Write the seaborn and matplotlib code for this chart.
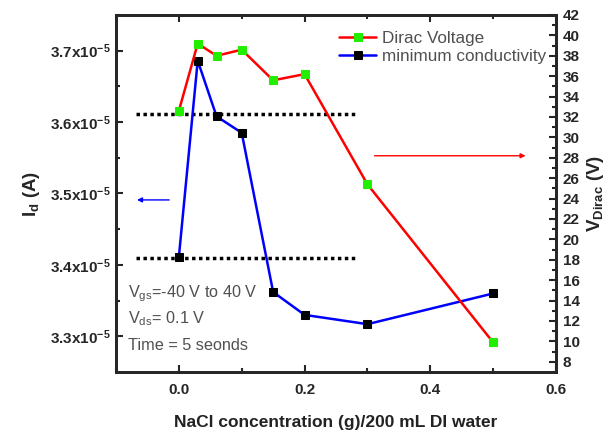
import numpy as np
import pandas as pd
import matplotlib
matplotlib.use("Agg")
import matplotlib.pyplot as plt
from matplotlib.ticker import MultipleLocator, FixedLocator, FixedFormatter
import seaborn as sns

# ---- data ----
nacl = [0.0, 0.03, 0.06, 0.10, 0.15, 0.20, 0.30, 0.50]
dirac_voltage = [32.6, 39.2, 38.0, 38.6, 35.6, 36.2, 25.4, 9.9]           # V (right axis)
min_conductivity = [3.411, 3.686, 3.608, 3.585, 3.362, 3.330, 3.317, 3.360]  # x1e-5 A (left axis)
left_ticks = [3.3, 3.4, 3.5, 3.6, 3.7]
left_tick_labels = [r"3.3x10$^{\mathbf{-5}}$", r"3.4x10$^{\mathbf{-5}}$", r"3.5x10$^{\mathbf{-5}}$",
                    r"3.6x10$^{\mathbf{-5}}$", r"3.7x10$^{\mathbf{-5}}$"]
ref_levels = [3.611, 3.410]  # dotted reference lines (x1e-5 A)
ref_x = [-0.068, 0.283]

sns.set_style("ticks")
plt.rcParams["font.family"] = ["Liberation Sans", "DejaVu Sans"]
plt.rcParams["mathtext.fontset"] = "custom"
plt.rcParams["mathtext.rm"] = "Liberation Sans"
plt.rcParams["mathtext.bf"] = "Liberation Sans:bold"
plt.rcParams["mathtext.it"] = "Liberation Sans:italic"

df = pd.DataFrame({"x": nacl, "vd": dirac_voltage, "imin": np.array(min_conductivity) * 1e-5})

fig = plt.figure(figsize=(6.15, 4.33), dpi=100)
ax = fig.add_axes([116/615, 61/433, (556-116)/615, (372-15)/433])
ax2 = ax.twinx()

sns.lineplot(data=df, x="x", y="imin", ax=ax, color="#0000ff", lw=1.8, marker="s",
             markersize=5.3, markerfacecolor="black", markeredgecolor="black", label="minimum conductivity",
             legend=False)
sns.lineplot(data=df, x="x", y="vd", ax=ax2, color="#ff0000", lw=1.8, marker="s",
             markersize=5.3, markerfacecolor="#22ee00", markeredgecolor="#22ee00", label="Dirac Voltage",
             legend=False)

for lvl in ref_levels:
    ax.plot(ref_x, [lvl*1e-5, lvl*1e-5], color="black", lw=2.5, ls=(0, (1, 1)), zorder=1)

ax.set_xlim(-0.1, 0.6)
ax.set_ylim(3.25e-5, 3.75e-5)
ax2.set_ylim(7, 42)

ax.xaxis.set_minor_locator(MultipleLocator(0.1))
ax.set_xticks([0.0, 0.2, 0.4, 0.6])
ax.set_xticklabels(["0.0", "0.2", "0.4", "0.6"])
ax.yaxis.set_major_locator(FixedLocator([v*1e-5 for v in left_ticks]))
ax.yaxis.set_major_formatter(FixedFormatter(left_tick_labels))
ax.yaxis.set_minor_locator(MultipleLocator(0.05e-5))
ax2.yaxis.set_major_locator(MultipleLocator(2))
ax2.yaxis.set_minor_locator(MultipleLocator(1))

ax.tick_params(axis="both", which="both", direction="in", top=True, width=1.5, labelsize=11)
ax.tick_params(axis="x", which="major", pad=8)
ax.tick_params(axis="y", which="both", right=False)
ax.tick_params(which="major", length=5)
ax.tick_params(which="minor", length=3)
ax2.tick_params(axis="y", which="both", direction="in", width=1.5, labelsize=11, pad=5)
ax2.tick_params(which="major", length=5)
ax2.tick_params(which="minor", length=3)
for a in (ax, ax2):
    for lab in a.get_xticklabels() + a.get_yticklabels():
        lab.set_fontweight("bold")
    for sp in a.spines.values():
        sp.set_linewidth(2)
        sp.set_visible(True)

ax.set_xlabel("NaCl concentration (g)/200 mL DI water", fontsize=12.5, fontweight="bold", labelpad=13, color="#222222")
ax.set_ylabel(r"I$_{\mathbf{d}}$ (A)", fontsize=13.5, fontweight="bold", labelpad=6)
ax2.set_ylabel(r"V$_{\mathbf{Dirac}}$ (V)", fontsize=13.5, fontweight="bold", labelpad=4)

# arrows
ax.annotate("", xy=(-0.071, 3.491e-5), xytext=(-0.011, 3.491e-5),
            arrowprops=dict(arrowstyle="-|>", color="#0000ff", lw=1, mutation_scale=7))
ax2.annotate("", xy=(0.556, 28.2), xytext=(0.307, 28.2),
             arrowprops=dict(arrowstyle="-|>", color="#ff0000", lw=1, mutation_scale=7))

# text
tc = "#505050"
ax.text(-0.081, 3.36e-5, r"V$_{\rm gs}$=-40 V to 40 V", fontsize=11.7, color=tc, va="center")
ax.text(-0.081, 3.325e-5, r"V$_{\rm ds}$= 0.1 V", fontsize=11.7, color=tc, va="center")
ax.text(-0.081, 3.287e-5, "Time = 5 seonds", fontsize=11.7, color=tc, va="center")

h1, l1 = ax2.get_legend_handles_labels()
h2, l2 = ax.get_legend_handles_labels()
leg = ax2.legend(h1 + h2, l1 + l2, loc="upper right", bbox_to_anchor=(1.0, 0.985), frameon=False,
                 fontsize=12.3, handlelength=2.2, handletextpad=0.3, labelspacing=0.2, borderaxespad=0.2)
for t in leg.get_texts():
    t.set_color(tc)

fig.savefig("out.png", dpi=100)
